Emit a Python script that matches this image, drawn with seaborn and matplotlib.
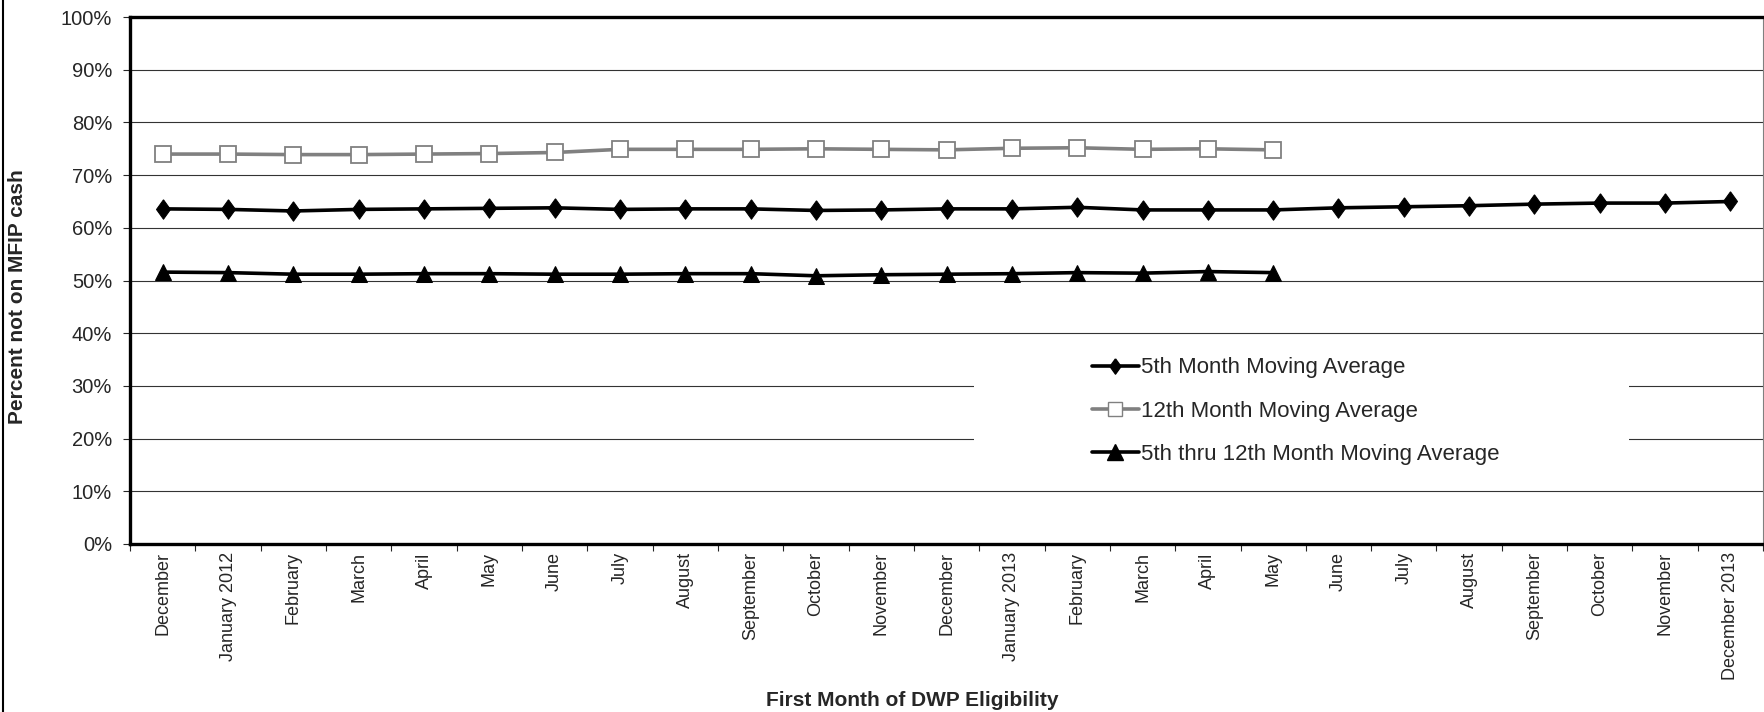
import numpy as np
import pandas as pd
import matplotlib.pyplot as plt
import seaborn as sns
from matplotlib.lines import Line2D
from matplotlib.patches import Rectangle

sns.set_style("white")
plt.rcParams['font.family'] = ['Liberation Sans', 'DejaVu Sans']

# Data
months = ["December", "January 2012", "February", "March", "April", "May", "June",
          "July", "August", "September", "October", "November", "December",
          "January 2013", "February", "March", "April", "May", "June", "July",
          "August", "September", "October", "November", "December 2013"]

avg_5th = [63.6, 63.5, 63.2, 63.5, 63.6, 63.7, 63.8, 63.5, 63.6, 63.6, 63.3, 63.4, 63.6,
           63.6, 63.9, 63.4, 63.4, 63.4, 63.8, 64.0, 64.2, 64.5, 64.7, 64.7, 65.0]
avg_12th = [74.0, 74.0, 73.9, 73.9, 74.0, 74.1, 74.3, 74.9, 74.9, 74.9, 75.0, 74.9,
            74.8, 75.1, 75.2, 74.9, 75.0, 74.8]
avg_5_12 = [51.6, 51.5, 51.2, 51.2, 51.3, 51.3, 51.2, 51.2, 51.3, 51.3, 50.9, 51.1,
            51.2, 51.3, 51.5, 51.4, 51.7, 51.5]

labels = ["5th Month Moving Average", "12th Month Moving Average",
          "5th thru 12th Month Moving Average"]

df = pd.DataFrame({"idx": np.arange(len(months))})
df["a5"] = avg_5th
df["a12"] = avg_12th + [np.nan] * (len(months) - len(avg_12th))
df["a512"] = avg_5_12 + [np.nan] * (len(months) - len(avg_5_12))

# slightly wide diamond, like the Excel marker
diamond = [(0, 1), (0.72, 0), (0, -1), (-0.72, 0), (0, 1)]

fig = plt.figure(figsize=(17.65, 7.12), dpi=100)
ax = fig.add_axes([0.0737, 0.236, 0.9252, 0.74])

sns.lineplot(data=df, x="idx", y="a5", ax=ax, color="black", linewidth=2.6,
             marker=diamond, markersize=14, markerfacecolor="black",
             markeredgecolor="black", zorder=4)
sns.lineplot(data=df.dropna(subset=["a12"]), x="idx", y="a12", ax=ax, color="#808080",
             linewidth=2.6, marker="s", markersize=11, markerfacecolor="white",
             markeredgecolor="#808080", markeredgewidth=1.3, zorder=3)
sns.lineplot(data=df.dropna(subset=["a512"]), x="idx", y="a512", ax=ax, color="black",
             linewidth=2.6, marker="^", markersize=12, markerfacecolor="black",
             markeredgecolor="black", zorder=4)

ax.set_xlim(-0.5, len(months) - 0.5)
ax.set_ylim(0, 100)
ax.set_yticks(np.arange(0, 101, 10))
ax.set_yticklabels([f"{v}%" for v in range(0, 101, 10)], fontsize=14.5)
ax.set_xticks(np.arange(len(months)))
ax.set_xticklabels(months, rotation=90, fontsize=13)
ax.set_xticks(np.arange(-0.5, len(months), 1), minor=True)
ax.tick_params(axis="x", which="major", length=0, pad=6)
ax.tick_params(axis="x", which="minor", length=5, width=0.8, direction="out", bottom=True)
ax.tick_params(axis="y", length=5, width=0.8, direction="out", left=True, pad=8)

ax.set_axisbelow(True)
ax.yaxis.grid(True, color="#333333", linewidth=0.8)
ax.xaxis.grid(False)

for s in ["top", "left", "bottom"]:
    ax.spines[s].set_color("black")
    ax.spines[s].set_linewidth(2.4)
ax.spines["right"].set_color("#808080")
ax.spines["right"].set_linewidth(0.8)

ax.set_xlabel("First Month of DWP Eligibility", fontsize=15, fontweight="bold")
ax.set_ylabel("Percent not on MFIP cash", fontsize=15, fontweight="bold")
ax.xaxis.set_label_coords(0.479, -0.28)
ax.yaxis.set_label_coords(-0.063, 0.47)

# white legend area hides gridlines
ax.add_patch(Rectangle((0.517, 0.12), 0.401, 0.27, transform=ax.transAxes,
                       facecolor="white", edgecolor="none", zorder=1))

handles = [
    Line2D([], [], color="black", linewidth=2.6, marker=diamond, markersize=11,
           markerfacecolor="black", markeredgecolor="black"),
    Line2D([], [], color="#808080", linewidth=2.6, marker="s", markersize=10,
           markerfacecolor="white", markeredgecolor="#808080"),
    Line2D([], [], color="black", linewidth=2.6, marker="^", markersize=11,
           markerfacecolor="black", markeredgecolor="black"),
]
ax.legend(handles, labels, loc="upper left", bbox_to_anchor=(0.589, 0.354),
          frameon=False, fontsize=16, handlelength=2.1, handletextpad=0.1,
          labelspacing=1.0, borderpad=0, borderaxespad=0)

fig.add_artist(Line2D([0.0015, 0.0015], [0, 1], transform=fig.transFigure,
                      color="black", linewidth=1.5))

fig.savefig("out.png", dpi=100, facecolor="white")
